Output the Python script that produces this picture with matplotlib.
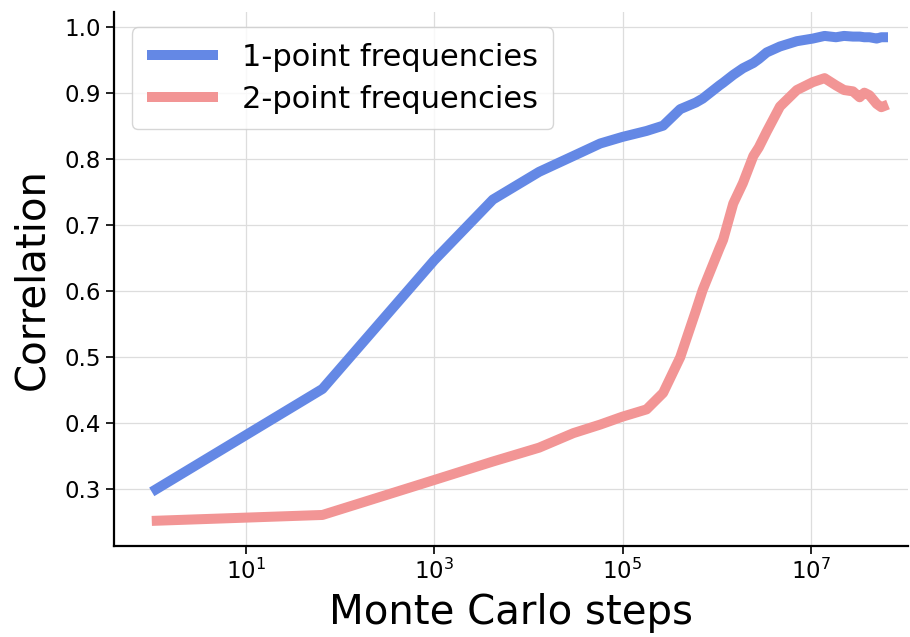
import matplotlib
matplotlib.use("Agg")
import matplotlib.pyplot as plt
from matplotlib.ticker import NullLocator

steps = [1, 65, 1000, 4200, 13000, 30000, 58000, 1e5, 1.8e5, 2.7e5, 4.1e5, 6e5, 7.1e5,
         1.07e6, 1.17e6, 1.5e6, 1.9e6, 2.45e6, 2.8e6, 3.4e6, 4.7e6, 7.1e6, 1.05e7, 1.4e7,
         1.85e7, 2.25e7, 2.8e7, 3.3e7, 3.7e7, 4.2e7, 5.0e7, 5.6e7, 6.6e7]

one_point = [0.296, 0.452, 0.647, 0.739, 0.781, 0.805, 0.824, 0.834, 0.843, 0.851, 0.876, 0.886, 0.892,
             0.912, 0.916, 0.928, 0.938, 0.946, 0.952, 0.962, 0.971, 0.979, 0.983, 0.987,
             0.985, 0.987, 0.986, 0.986, 0.985, 0.985, 0.983, 0.985, 0.985]

two_point = [0.252, 0.261, 0.314, 0.342, 0.363, 0.385, 0.398, 0.410, 0.421, 0.446, 0.500, 0.570, 0.602,
             0.665, 0.678, 0.733, 0.764, 0.805, 0.818, 0.842, 0.880, 0.905, 0.917, 0.923,
             0.912, 0.905, 0.903, 0.894, 0.901, 0.897, 0.884, 0.879, 0.883]

labels = ["1-point frequencies", "2-point frequencies"]
xticks = [1e1, 1e3, 1e5, 1e7]
yticks = [0.3, 0.4, 0.5, 0.6, 0.7, 0.8, 0.9, 1.0]

fig = plt.figure(figsize=(9.1, 6.37), dpi=100)
ax = fig.add_axes([0.1256, 0.1429, 0.872, 0.838])

ax.plot(steps, one_point, color="#6488E5", lw=7.2, label=labels[0], solid_capstyle="butt")
ax.plot(steps, two_point, color="#F29595", lw=7.2, label=labels[1], solid_capstyle="butt")

ax.set_xscale("log")
ax.set_xlim(10 ** -0.398, 10 ** 8.03)
ax.set_ylim(0.214, 1.023)
ax.set_xticks(xticks)
ax.xaxis.set_minor_locator(NullLocator())
ax.set_yticks(yticks)
ax.set_yticklabels([f"{v:.1f}" for v in yticks])

ax.grid(True, color="#dddddd", lw=0.9)
ax.set_axisbelow(True)
for s in ["top", "right"]:
    ax.spines[s].set_visible(False)
for s in ["left", "bottom"]:
    ax.spines[s].set_linewidth(1.6)
ax.tick_params(axis="both", labelsize=16.5, width=1.4, length=6, color="#222222")

ax.set_xlabel("Monte Carlo steps", fontsize=29, labelpad=6)
ax.set_ylabel("Correlation", fontsize=29, labelpad=9)

leg = ax.legend(loc="upper left", fontsize=22, bbox_to_anchor=(0.003, 1.0),
                handlelength=2.3, borderpad=0.5, labelspacing=0.42)
leg.get_frame().set_edgecolor("#cccccc")

fig.savefig("out.png", dpi=100)
